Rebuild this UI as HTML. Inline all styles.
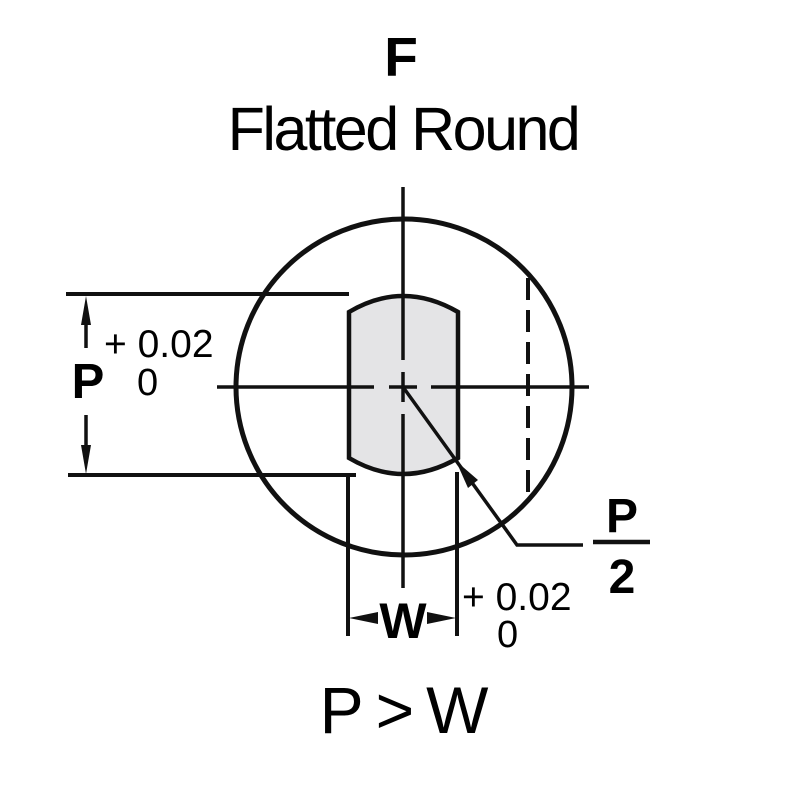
<!DOCTYPE html>
<html><head><style>body{margin:0;background:#fff}</style></head><body>
<svg width="800" height="800" viewBox="0 0 800 800" xmlns="http://www.w3.org/2000/svg" font-family="Liberation Sans, sans-serif">
<text x="401" y="76" font-size="55" font-weight="bold" text-anchor="middle">F</text>
<text x="403" y="150" font-size="61" text-anchor="middle" letter-spacing="-2.5">Flatted Round</text>
<path d="M349 312 Q403 280 458 312 L458 458 Q403 490 349 458 Z" fill="#e4e4e6" stroke="#111" stroke-width="4.5"/>
<circle cx="404" cy="387" r="168" fill="none" stroke="#111" stroke-width="5"/>
<g stroke="#111" stroke-width="3.5" fill="none">
<line x1="403" y1="187" x2="403" y2="360"/>
<line x1="403" y1="372" x2="403" y2="402"/>
<line x1="403" y1="414" x2="403" y2="588"/>
<line x1="217" y1="387" x2="374" y2="387"/>
<line x1="389" y1="387" x2="417" y2="387"/>
<line x1="431" y1="387" x2="589" y2="387"/>
<line x1="528" y1="278" x2="528" y2="500" stroke-dasharray="22,10" stroke-width="4"/>
<polyline points="403,387 517,545 583,545"/>
<line x1="66" y1="294" x2="349" y2="294" stroke-width="4"/>
<line x1="68" y1="475" x2="356" y2="475" stroke-width="4"/>
<line x1="86" y1="310" x2="86" y2="348"/>
<line x1="86" y1="415" x2="86" y2="460"/>
<line x1="348" y1="475" x2="348" y2="636" stroke-width="4"/>
<line x1="457" y1="472" x2="457" y2="636" stroke-width="4"/>
<line x1="360" y1="618" x2="376" y2="618"/>
<line x1="430" y1="618" x2="446" y2="618"/>
<line x1="593" y1="542" x2="650" y2="542" stroke-width="4.5"/>
</g>
<g fill="#111">
<polygon points="86,296 81,325 91,325"/>
<polygon points="86,474 81,445 91,445"/>
<polygon points="349,618 378,612 378,624"/>
<polygon points="456,618 427,612 427,624"/>
<polygon points="456,461 468,488 478,480"/>
</g>
<text x="88" y="398" font-size="49" font-weight="bold" text-anchor="middle">P</text>
<text x="104" y="357" font-size="39">+ 0.02</text>
<text x="137" y="395" font-size="38">0</text>
<text x="403" y="638" font-size="50" font-weight="bold" text-anchor="middle">W</text>
<text x="462" y="610" font-size="39">+ 0.02</text>
<text x="497" y="647" font-size="38">0</text>
<text x="622" y="532" font-size="48" font-weight="bold" text-anchor="middle">P</text>
<text x="622" y="593" font-size="48" font-weight="bold" text-anchor="middle">2</text>
<text x="410" y="733" font-size="66" text-anchor="middle" letter-spacing="12">P&gt;W</text>
</svg>
</body></html>
